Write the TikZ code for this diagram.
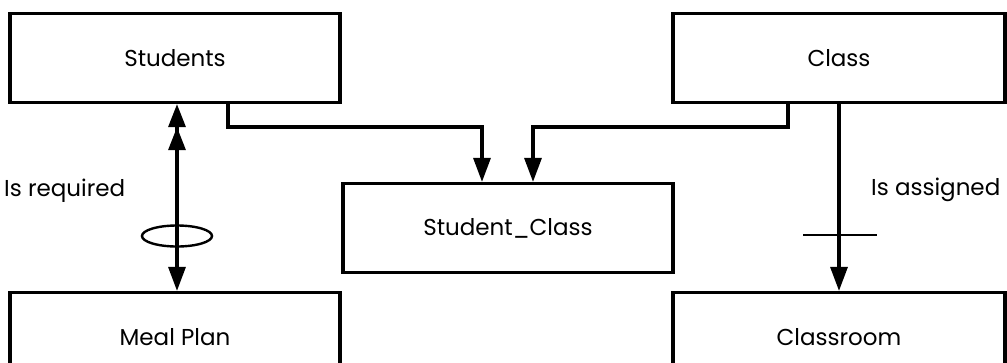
\documentclass[tikz,border=0pt]{standalone}
\usepackage{fontspec}
\setmainfont{Poppins}
\usetikzlibrary{arrows.meta,shapes.geometric}
\begin{document}
\begin{tikzpicture}[x=1pt,y=-1pt,
  entity/.style={draw=black, line width=3.2pt, minimum width=330pt, minimum height=89pt,
                 inner sep=0pt, font=\fontsize{23}{27}\selectfont, text=black},
  conn/.style={line width=3.2pt},
  head/.style={-{Triangle[length=24pt,width=17pt]}},
  lbl/.style={font=\fontsize{23}{27}\selectfont, text=black, inner sep=0pt, anchor=west},
  thin/.style={line width=2.4pt}]
  \useasboundingbox (0,0) rectangle (1007,362);
  \clip (0,0) rectangle (1007,362);

  % entity boxes
  \node[entity] (students) at (175,58) {Students};
  \node[entity, minimum width=332pt] (class) at (839,58) {Class};
  \node[entity] (sc) at (508,228) {Student\_Class};
  \node[entity] (meal) at (175,337) {Meal Plan};
  \node[entity, minimum width=332pt] (room) at (839,337) {Classroom};

  % bend points of the two links into Student_Class
  \coordinate (a1) at (228,0);
  \coordinate (k1) at (482,127);
  \coordinate (a2) at (788,0);
  \coordinate (k2) at (533,127);
  \draw[conn, head] (students.south -| a1) |- (k1) -- (sc.north -| k1);
  \draw[conn, head] (class.south -| a2) |- (k2) -- (sc.north -| k2);

  % Students <-> Meal Plan
  \coordinate (m) at (177,0);
  \draw[conn, {Triangle[length=23pt,width=17pt]Triangle[length=23pt,width=17pt]}-{Triangle[length=24pt,width=17pt]}]
    (students.south -| m) -- (meal.north -| m);
  \node[draw, thin, ellipse, minimum width=70pt, minimum height=21pt, inner sep=0pt] (ring) at (177,236) {};
  \node[lbl] (req) at (4,191) {Is required};

  % Class -> Classroom
  \coordinate (c) at (839,0);
  \draw[conn, head] (class.south -| c) -- (room.north -| c);
  \coordinate (bar1) at (803,235);
  \coordinate (bar2) at (877,235);
  \draw[thin] (bar1) -- (bar2);
  \node[lbl] (asg) at (871,190) {Is assigned};
\end{tikzpicture}
\end{document}
